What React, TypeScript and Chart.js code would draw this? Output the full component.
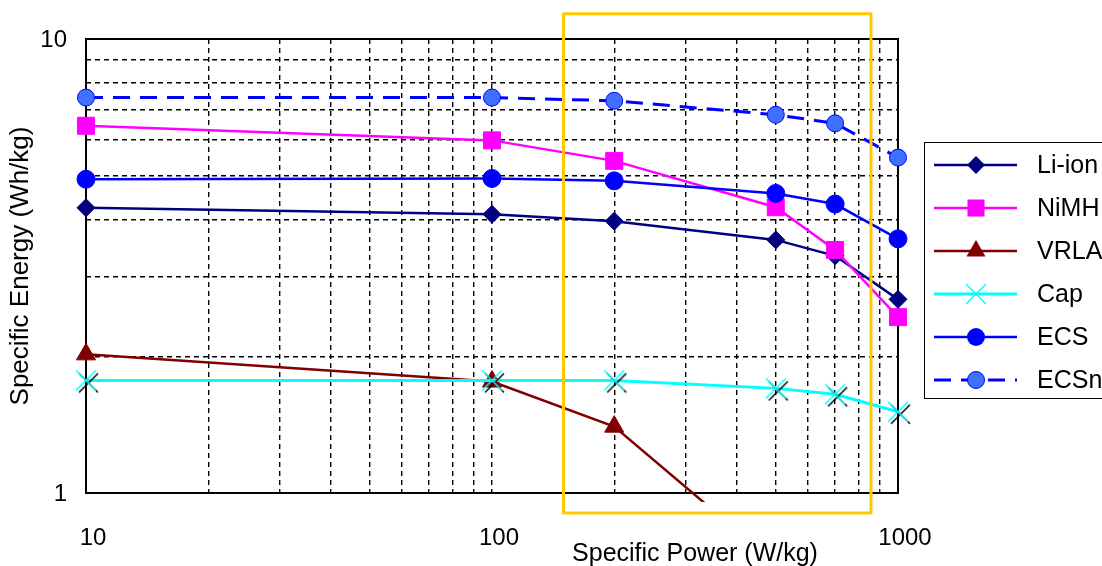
import { useEffect, useRef } from 'react';
import { Chart, registerables } from 'chart.js';

Chart.register(...registerables);

// ---- data ----
const powerWkg = [10, 100, 200, 500, 700, 1000];
const liIonWhkg = [4.25, 4.11, 3.97, 3.61, 3.33, 2.67];
const nimhWhkg = [6.44, 5.98, 5.39, 4.26, 3.43, 2.44];
const vrlaPowerWkg = [10, 100, 200, 500];
const vrlaWhkg = [2.02, 1.76, 1.4, 0.7];
const capWhkg = [1.77, 1.77, 1.77, 1.7, 1.65, 1.51];
const ecsWhkg = [4.91, 4.93, 4.87, 4.57, 4.33, 3.63];
const ecsnWhkg = [7.43, 7.43, 7.31, 6.81, 6.52, 5.48];
const seriesNames = ['Li-ion', 'NiMH', 'VRLA', 'Cap', 'ECS', 'ECSn'];
const xTickLabels = [10, 100, 1000];
const yTickLabels = [1, 10];
const xTitle = 'Specific Power (W/kg)';
const yTitle = 'Specific Energy (Wh/kg)';
const highlightPower = [150, 858];
const highlightEnergy = [0.904, 11.36];

const FONT = '"Liberation Sans", Arial, sans-serif';

// log grid positions: 1..9 times each decade, plus the final decade
function logGrid(minV: number, maxV: number): number[] {
  const out: number[] = [];
  for (let d = minV; d < maxV - 1e-9; d *= 10) {
    for (let m = 1; m < 10; m++) out.push(d * m);
  }
  out.push(maxV);
  return out;
}

type Kind = 'diamond' | 'square' | 'triangle' | 'cap' | 'circle' | 'circle2';

const styles: { color: string; width: number; dash: number[]; kind: Kind; fill: string }[] = [
  { color: '#000080', width: 2.5, dash: [], kind: 'diamond', fill: '#000080' },
  { color: '#FF00FF', width: 2.5, dash: [], kind: 'square', fill: '#FF00FF' },
  { color: '#800000', width: 2.5, dash: [], kind: 'triangle', fill: '#800000' },
  { color: '#00FFFF', width: 3, dash: [], kind: 'cap', fill: '#00FFFF' },
  { color: '#0000FF', width: 2.5, dash: [], kind: 'circle', fill: '#0000FF' },
  { color: '#0000FF', width: 3, dash: [17, 10], kind: 'circle2', fill: '#4070FF' },
];

function drawX(g: CanvasRenderingContext2D, cx: number, cy: number, r: number, color: string) {
  g.strokeStyle = color;
  g.lineWidth = 1.5;
  g.beginPath();
  g.moveTo(cx - r, cy - r);
  g.lineTo(cx + r, cy + r);
  g.moveTo(cx + r, cy - r);
  g.lineTo(cx - r, cy + r);
  g.stroke();
}

function makeCapMarker(): HTMLCanvasElement {
  const c = document.createElement('canvas');
  c.width = 30;
  c.height = 30;
  const g = c.getContext('2d')!;
  drawX(g, 17.5, 17.5, 9.5, '#000000');
  drawX(g, 15, 15, 10, '#00FFFF');
  return c;
}

function drawMarker(ctx: CanvasRenderingContext2D, kind: Kind, x: number, y: number, fill: string) {
  ctx.save();
  ctx.setLineDash([]);
  ctx.fillStyle = fill;
  ctx.strokeStyle = fill;
  ctx.lineWidth = 1;
  ctx.beginPath();
  if (kind === 'diamond') {
    const r = 9;
    ctx.moveTo(x, y - r);
    ctx.lineTo(x + r, y);
    ctx.lineTo(x, y + r);
    ctx.lineTo(x - r, y);
    ctx.closePath();
    ctx.fill();
  } else if (kind === 'square') {
    ctx.rect(x - 8.5, y - 8.5, 17, 17);
    ctx.fill();
  } else if (kind === 'triangle') {
    const r = 11;
    ctx.moveTo(x, y - r);
    ctx.lineTo(x + r * 0.866, y + r / 2);
    ctx.lineTo(x - r * 0.866, y + r / 2);
    ctx.closePath();
    ctx.fill();
  } else if (kind === 'cap') {
    drawX(ctx, x, y, 10, '#00FFFF');
  } else {
    ctx.arc(x, y, kind === 'circle' ? 9 : 8.5, 0, Math.PI * 2);
    ctx.fill();
    if (kind === 'circle2') {
      ctx.strokeStyle = '#0000FF';
      ctx.stroke();
    }
  }
  ctx.restore();
}

const isDecade = (v: number) => Math.abs(Math.log10(v) - Math.round(Math.log10(v))) < 1e-6;

const framePlugin = {
  id: 'frame',
  beforeDatasetsDraw(chart: any) {
    const { ctx, chartArea: a } = chart;
    ctx.save();
    ctx.setLineDash([]);
    ctx.strokeStyle = '#000';
    ctx.lineWidth = 2;
    ctx.strokeRect(a.left, a.top, a.right - a.left, a.bottom - a.top);
    ctx.restore();
  },
};

const overlayPlugin = {
  id: 'overlay',
  afterDraw(chart: any) {
    const ctx: CanvasRenderingContext2D = chart.ctx;
    const xs = chart.scales.x;
    const ys = chart.scales.y;
    // highlight box
    ctx.save();
    ctx.strokeStyle = '#FFC800';
    ctx.lineWidth = 3;
    ctx.lineJoin = 'round';
    const x1 = xs.getPixelForValue(highlightPower[0]);
    const x2 = xs.getPixelForValue(highlightPower[1]);
    const y1 = ys.getPixelForValue(highlightEnergy[1]);
    const y2 = ys.getPixelForValue(highlightEnergy[0]);
    ctx.strokeRect(x1, y1, x2 - x1, y2 - y1);
    ctx.restore();

    // axis titles
    ctx.save();
    ctx.fillStyle = '#000';
    ctx.font = `25px ${FONT}`;
    ctx.textAlign = 'center';
    ctx.textBaseline = 'alphabetic';
    ctx.fillText(xTitle, 695, 561);
    ctx.font = `26px ${FONT}`;
    ctx.translate(21, (chart.chartArea.top + chart.chartArea.bottom) / 2);
    ctx.rotate(-Math.PI / 2);
    ctx.textBaseline = 'middle';
    ctx.fillText(yTitle, 0, 0);
    ctx.restore();

    // legend
    ctx.save();
    const left = 924, top = 142, bottom = 398, right = 1120;
    ctx.fillStyle = '#fff';
    ctx.fillRect(left, top, right - left, bottom - top);
    ctx.strokeStyle = '#000';
    ctx.lineWidth = 1;
    ctx.strokeRect(left + 0.5, top + 0.5, right - left, bottom - top);
    ctx.font = `25px ${FONT}`;
    ctx.textBaseline = 'middle';
    ctx.textAlign = 'left';
    seriesNames.forEach((name, i) => {
      const st = styles[i];
      const y = 165 + i * 43;
      ctx.strokeStyle = st.color;
      ctx.lineWidth = st.width;
      ctx.setLineDash(st.dash);
      ctx.beginPath();
      ctx.moveTo(934, y);
      ctx.lineTo(1017, y);
      ctx.stroke();
      ctx.setLineDash([]);
      drawMarker(ctx, st.kind, 976, y, st.fill);
      ctx.fillStyle = '#000';
      ctx.fillText(name, 1037, y + 1);
    });
    ctx.restore();
  },
};

export default function App() {
  const ref = useRef<HTMLCanvasElement>(null);

  useEffect(() => {
    const canvas = ref.current!;
    const capMarker = makeCapMarker();
    const pts = (xsArr: number[], ysArr: number[]) => xsArr.map((x, i) => ({ x, y: ysArr[i] }));
    const seriesData = [
      pts(powerWkg, liIonWhkg),
      pts(powerWkg, nimhWhkg),
      pts(vrlaPowerWkg, vrlaWhkg),
      pts(powerWkg, capWhkg),
      pts(powerWkg, ecsWhkg),
      pts(powerWkg, ecsnWhkg),
    ];
    const pointStyleFor = (k: Kind): any =>
      k === 'diamond' ? 'rectRot' : k === 'square' ? 'rect' : k === 'triangle' ? 'triangle' : k === 'cap' ? capMarker : 'circle';
    const radiusFor = (k: Kind) =>
      k === 'diamond' ? 9 : k === 'square' ? 12 : k === 'triangle' ? 11 : k === 'cap' ? 10 : k === 'circle' ? 9 : 8.5;

    const datasets = seriesNames.map((name, i) => {
      const st = styles[i];
      const data = seriesData[i];
      const r = radiusFor(st.kind);
      return {
        label: name,
        data,
        order: seriesNames.length - i,
        borderColor: st.color,
        backgroundColor: st.fill,
        borderWidth: st.width,
        borderDash: st.dash,
        tension: 0,
        pointStyle: pointStyleFor(st.kind),
        pointRadius: data.map((p) => (p.y < 1 ? 0 : r)),
        pointBackgroundColor: st.fill,
        pointBorderColor: st.kind === 'circle2' ? '#0000FF' : st.fill,
        pointBorderWidth: 1,
        clip: st.kind === 'triangle' ? { left: 20, top: 20, right: 20, bottom: 9 } : false,
      };
    });

    const xGrid = logGrid(10, 1000);
    const yGrid = logGrid(1, 10);

    const chart = new Chart(canvas, {
      type: 'line',
      data: { datasets: datasets as any },
      options: {
        animation: false,
        responsive: false,
        devicePixelRatio: 1,
        layout: { padding: { left: 0, top: 39, right: 204, bottom: 0 } },
        plugins: { legend: { display: false }, tooltip: { enabled: false } },
        scales: {
          x: {
            type: 'logarithmic',
            min: 10,
            max: 1000,
            afterBuildTicks: (s: any) => {
              s.ticks = xGrid.map((v) => ({ value: v }));
            },
            afterFit: (s: any) => {
              s.height = 73;
            },
            border: { display: false, dash: [5, 4] },
            grid: { color: '#000', lineWidth: 1.4, drawTicks: false },
            ticks: {
              autoSkip: false,
              maxRotation: 0,
              minRotation: 0,
              padding: 31,
              labelOffset: 7,
              color: '#000',
              font: { family: FONT, size: 24 },
              callback: (v: any) => {
                const n = Number(v);
                return isDecade(n) && xTickLabels.some((t) => Math.abs(t - n) < 1e-6) ? String(Math.round(n)) : '';
              },
            },
          },
          y: {
            type: 'logarithmic',
            min: 1,
            max: 10,
            afterBuildTicks: (s: any) => {
              s.ticks = yGrid.map((v) => ({ value: v }));
            },
            afterFit: (s: any) => {
              s.width = 86;
            },
            border: { display: false, dash: [5, 4] },
            grid: { color: '#000', lineWidth: 1.4, drawTicks: false },
            ticks: {
              autoSkip: false,
              padding: 19,
              labelOffset: 1,
              color: '#000',
              font: { family: FONT, size: 24 },
              callback: (v: any) => {
                const n = Number(v);
                return isDecade(n) && yTickLabels.some((t) => Math.abs(t - n) < 1e-6) ? String(Math.round(n)) : '';
              },
            },
          },
        },
      } as any,
      plugins: [framePlugin, overlayPlugin],
    });
    return () => chart.destroy();
  }, []);

  return (
    <div style={{ position: 'fixed', left: 0, top: 0, width: 1102, height: 566, background: '#fff', overflow: 'hidden' }}>
      <canvas ref={ref} width={1102} height={566} style={{ width: 1102, height: 566, display: 'block' }} />
    </div>
  );
}
